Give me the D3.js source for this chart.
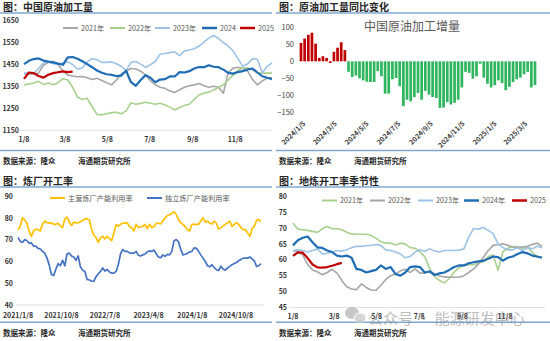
<!DOCTYPE html>
<html><head><meta charset="utf-8">
<script src="https://cdn.jsdelivr.net/npm/d3@7/dist/d3.min.js"></script>
<style>html,body{margin:0;padding:0;background:#fff;}svg{display:block;}</style>
</head><body>
<svg id="chart" width="550" height="341"></svg>
<script>
// ---------------- DATA ----------------
// Panel 1: China crude runs (weekly, seasonal), 10k t
const seasonTicks = ["1/8","3/8","5/8","7/8","9/8","11/8"];
const runYears = ["2021年","2022年","2023年","2024","2025"];
const runs2021 = [1405,1405,1404,1410,1445,1458,1462,1448,1420,1400,1396,1393,1394,1388,1380,1386,1376,1366,1356,1378,1405,1418,1430,1428,1418,1400,1375,1356,1345,1340,1328,1322,1334,1345,1352,1356,1362,1352,1345,1350,1345,1318,1412,1432,1436,1430,1418,1380,1356,1374,1386,1388];
const runs2022 = [1356,1360,1364,1372,1358,1364,1357,1366,1384,1378,1345,1300,1290,1295,1258,1222,1220,1225,1230,1232,1225,1238,1275,1268,1272,1277,1273,1268,1273,1265,1255,1242,1253,1263,1268,1290,1310,1318,1323,1333,1344,1356,1378,1400,1422,1432,1432,1424,1410,1409,1409,1409];
const runs2023 = [1410,1410,1408,1430,1455,1460,1452,1450,1455,1460,1448,1428,1432,1460,1475,1470,1458,1458,1460,1452,1440,1422,1458,1462,1450,1435,1447,1462,1495,1498,1502,1506,1488,1510,1514,1520,1532,1550,1568,1580,1566,1548,1532,1510,1475,1440,1452,1475,1472,1410,1440,1455];
const runs2024 = [1450,1465,1473,1476,1466,1461,1458,1452,1447,1481,1482,1474,1463,1450,1436,1421,1411,1404,1401,1396,1398,1420,1368,1352,1378,1400,1388,1368,1380,1382,1394,1394,1414,1412,1418,1430,1437,1436,1445,1438,1436,1425,1410,1407,1414,1418,1426,1430,1412,1395,1388,1382];
const runs2025 = [1383,1412,1409,1396,1389,1402,1409,1413,1417,1414,1416];
const runTicks = [1150,1250,1350,1450,1550,1650];

// Panel 2: YoY change of crude runs (weekly from 2024/1/5)
const yoyTicks = ["2024/1/5","2024/3/5","2024/5/5","2024/7/5","2024/9/5","2024/11/5","2025/1/5","2025/3/5"];
const yoyStart = "2024/1/5";
const yoyRed = [54,67,78,84,52,10,15,10,-5,28,40,56,33];
const yoyGreen = [-31,-46,-42,-50,-56,-60,-61,-61,-29,-44,-95,-95,-53,-49,-73,-132,-113,-118,-105,-93,-113,-87,-98,-105,-108,-137,-136,-120,-127,-122,-113,-77,-31,-34,-51,-44,-7,-48,-66,-77,-70,-56,-64,-85,-75,-61,-53,-48,-38,-31,-77,-70];
const yoyYTicks = [-150,-100,-50,0,50,100];

// Panel 3: refinery utilisation (biweekly from 2021/1/8), %
const utilStart = "2021/1/8";
const utilTicks = ["2021/1/8","2021/10/8","2022/7/8","2023/4/8","2024/1/8","2024/10/8"];
const utilNames = ["主营炼厂产能利用率","独立炼厂产能利用率"];
const utilMain = [74.5,76,80,79,77.5,74,71.5,74,74.8,74.5,74,77,78.5,77.8,77.7,77.6,77,77,77.5,76.3,75.5,79.5,80.3,78,76.5,78,77.7,77.8,78.2,78.8,79.4,79.6,79,75,72,71,68.7,70.8,71.5,70.3,71.5,70.5,69.5,73,76.8,76.2,77,77.5,77.7,77.7,76,75.4,74,77,75.5,76,76,77,75,77,75.5,76,77.5,77.5,77.2,78.5,80,81,81.4,82,82.8,81.5,79.2,77.7,77,76,74.5,74,77,77,77,77,78.5,80,78,78.5,77.5,77.2,78.5,77.5,74.8,75.5,76.3,77,77.7,78.5,76,77,77.7,77,75.5,74.6,74.6,73,71.5,75,76,78.8,79.2,78.2];
const utilIndep = [71,69.2,68.7,70,69.5,68.3,68.5,67,67,66,65.7,64.6,63.8,61.5,58.4,54,53.5,56.5,59,58,60.5,58,63.5,63.8,62.5,62,60.5,62.5,57.5,56,55.4,51.7,51.5,51,50.8,53,54.2,55.5,57,55.6,56.3,55.2,54.6,54.6,55.4,58.5,63.5,65.4,64.6,64.6,63.9,63.8,63.8,64.6,62.8,62.5,63,63.4,64.4,64.8,64.6,65.2,63.5,62,61.7,63,62.3,63.2,63,64.6,69.5,70,69,65.5,63,63.3,63.7,64.3,64.6,66.2,66,64.6,63,61.5,60,58,57.5,58.5,57.2,56.2,55.8,57.8,56.5,56,57,57.7,58.5,59,59.5,60.4,60.8,61.5,61.5,61.5,62,61.2,60.2,57.7,58,59];
const utilYTicks = [40,50,60,70,80,90];

// Panel 4: independent refinery utilisation seasonality (weekly), %
const teaYears = ["2021年","2022年","2023年","2024年","2025"];
const tea2021 = [71.5,69.6,69.4,69.2,68.9,68.6,69.7,70.4,69.7,69.7,69.4,68.6,68.1,68,68,68,67.6,66.7,65.7,65.2,65.2,64.6,65.2,64.9,63.8,63.6,62.5,60.9,57.2,54.6,53.5,52.7,54.1,56.1,57.5,58.2,58.4,58.4,59,59.4,61,61.5,56.7,62.5,63.6,64.1,64.1,63.6,64.1,62.3,60.9,60.9];
const tea2022 = [62.8,62.5,61.5,58.5,56.8,56.2,55.3,56,57,55.8,53.5,51.5,50.8,50.6,52.4,51.3,50.5,50.4,52,53.8,55,55.5,56.5,57,56,57.1,55.8,55.8,56.5,55.5,54.9,54.6,54.5,54.5,54.5,55,56,57.1,58.7,60.8,62.9,64.5,64.7,65,64.5,64,63.8,64,64.2,64.8,65.2,64.2];
const tea2023 = [62.9,63.1,62.9,62.4,62.9,63.4,61.8,62,62.4,62.9,62.7,63.1,63.8,64.2,64.2,64.4,64.5,64.8,64.5,63.1,62.9,62.4,61.8,60.6,61,62.4,63.1,62.6,63.4,62.7,62.4,62.9,62.9,62.9,63,63.4,67.1,69.8,69.6,70.1,69.2,68.2,65,63.8,63.1,63.1,63.8,62.9,63.8,63.4,64.2,63.8];
const tea2024 = [64.5,66.1,66.9,67.3,65.5,63.9,63.7,62.9,62.4,61.3,61,61.3,60.6,57.1,56.8,56,56.4,56.8,58.2,57.1,57.7,55.5,55,56,57.7,57.9,57.7,56,56.3,55.2,55.7,56,56.8,57.7,58.2,58.2,58.9,59.2,59.5,59.7,60.3,61,60.8,59.7,60.6,61,61.8,62.4,62,61.3,61,60.6];
const tea2025 = [61.2,62.3,62.2,60.5,58.5,57.6,57.5,57.7,58.1,58.6,59.0];
const teaYTicks = [45,50,55,60,65,70,75,80];

const titles = ["图：中国原油加工量","图：原油加工量同比变化","图：炼厂开工率","图：地炼开工率季节性"];
const chartInnerTitle = "中国原油加工增量";
const sourceLeft = "数据来源：隆众";
const sourceRight = "海通期货研究所";
const watermark = "公众号 · 能源研发中心";

// ---------------- HELPERS ----------------
const FONT = "'Noto Sans CJK SC','Noto Sans',sans-serif";
const svg = d3.select("#chart");
const parseD = s => { const p = s.split("/").map(Number); return p.length === 3 ? new Date(p[0], p[1]-1, p[2]) : new Date(2021, p[0]-1, p[1]); };
const seasonDate = i => d3.timeDay.offset(new Date(2021,0,8), 7*i);

const C = {gray:"#a6a6a6", green:"#a9d18e", lblue:"#9dc3e6", dblue:"#1f6db5", red:"#c00000", yellow:"#ffc000", blue:"#4472c4", bar:"#2fb55e", sep:"#7fa7d2"};

function frame(x0, x1, titleY, lineY, srcLineY, srcY, title) {
  svg.append("text").attr("x", x0+3).attr("y", titleY).text(title)
    .attr("font-family", FONT).attr("font-size", 10).attr("font-weight", "bold").attr("fill", "#262626");
  svg.append("line").attr("x1", x0).attr("x2", x1).attr("y1", lineY).attr("y2", lineY)
    .attr("stroke", C.sep).attr("stroke-width", 1.5);
  svg.append("line").attr("x1", x0).attr("x2", x1).attr("y1", srcLineY).attr("y2", srcLineY)
    .attr("stroke", C.sep).attr("stroke-width", 1.5);
  svg.append("text").attr("x", x0+3).attr("y", srcY).text(sourceLeft)
    .attr("font-family", FONT).attr("font-size", 7.5).attr("font-weight", "bold").attr("fill", "#262626");
  svg.append("text").attr("x", x0+78).attr("y", srcY).text(sourceRight)
    .attr("font-family", FONT).attr("font-size", 7.5).attr("font-weight", "bold").attr("fill", "#262626");
}

function yAxis(scale, x, ticks, bold, size, color) {
  const g = svg.append("g").attr("transform", `translate(${x},0)`)
    .call(d3.axisLeft(scale).tickValues(ticks).tickSize(0).tickPadding(0).tickFormat(d3.format("d")));
  g.select(".domain").remove();
  g.selectAll("text").attr("font-family", FONT).attr("font-size", size)
    .attr("font-weight", bold ? "bold" : "normal").attr("fill", color);
}

function xLabels(scale, ticks, y) {
  svg.append("g").selectAll("text").data(ticks).join("text")
    .attr("x", d => scale(parseD(d))).attr("y", y).attr("text-anchor", "middle")
    .text(d => d).attr("font-family", FONT).attr("font-size", 7).attr("font-weight", "bold").attr("fill", "#333");
}

function legend(items, y) {
  items.forEach(it => {
    svg.append("line").attr("x1", it.x).attr("x2", it.x+15).attr("y1", y).attr("y2", y)
      .attr("stroke", it.color).attr("stroke-width", it.w || 2);
    svg.append("text").attr("x", it.x+18).attr("y", y+2.6).text(it.name)
      .attr("font-family", FONT).attr("font-size", 7.2).attr("fill", "#595959");
  });
}

function seasonLine(sx, sy, data, color, w) {
  svg.append("path").datum(data)
    .attr("d", d3.line().x((v,i) => sx(seasonDate(i))).y(v => sy(v)))
    .attr("fill", "none").attr("stroke", color).attr("stroke-width", w).attr("stroke-linejoin", "round");
}

// ---------------- PANEL 1 ----------------
frame(0, 272, 10.5, 13, 150.5, 164, titles[0]);
const sx1 = d3.scaleTime().domain([seasonDate(0), seasonDate(51)]).range([24, 272]);
const sy1 = d3.scaleLinear().domain([1150, 1650]).range([130.3, 20]);
svg.append("line").attr("x1", 20).attr("x2", 272).attr("y1", sy1(1150)).attr("y2", sy1(1150)).attr("stroke", "#d9d9d9").attr("stroke-width", 0.8);
yAxis(sy1, 19, runTicks, true, 7, "#333");
xLabels(sx1, seasonTicks, 141.5);
seasonLine(sx1, sy1, runs2021, C.gray, 1.6);
seasonLine(sx1, sy1, runs2022, C.green, 1.6);
seasonLine(sx1, sy1, runs2023, C.lblue, 1.6);
seasonLine(sx1, sy1, runs2024, C.dblue, 2.2);
seasonLine(sx1, sy1, runs2025, C.red, 2.2);
legend([
  {x:63, name:runYears[0], color:C.gray},
  {x:110, name:runYears[1], color:C.green},
  {x:155, name:runYears[2], color:C.lblue},
  {x:202, name:runYears[3], color:C.dblue, w:2.5},
  {x:240, name:runYears[4], color:C.red, w:2.5}
], 28);

// ---------------- PANEL 2 ----------------
frame(276, 550, 10.5, 13, 150.5, 164, titles[1]);
const start2 = parseD(yoyStart);
const yoyAll = yoyRed.map(v => ({v, c:C.red})).concat(yoyGreen.map(v => ({v, c:C.bar})));
const sx2 = d3.scaleTime().domain([start2, d3.timeWeek.offset(start2, yoyAll.length-1)]).range([301, 535]);
const sy2 = d3.scaleLinear().domain([-150, 100]).range([112.3, 27.3]);
yAxis(sy2, 294, yoyYTicks, false, 7.5, "#404040");
svg.append("g").selectAll("rect").data(yoyAll).join("rect")
  .attr("x", (d,i) => sx2(d3.timeWeek.offset(start2, i)) - 1.35)
  .attr("width", 2.7)
  .attr("y", d => Math.min(sy2(d.v), sy2(0)))
  .attr("height", d => Math.abs(sy2(d.v) - sy2(0)))
  .attr("fill", d => d.c);
svg.append("text").attr("x", 412).attr("y", 31).attr("text-anchor", "middle").text(chartInnerTitle)
  .attr("font-family", FONT).attr("font-size", 12).attr("fill", "#595959");
svg.append("g").selectAll("text").data(yoyTicks).join("text")
  .attr("text-anchor", "end")
  .attr("transform", d => `translate(${sx2(parseD(d))+2},121) rotate(-45)`)
  .attr("dy", "0.6em")
  .text(d => d).attr("font-family", FONT).attr("font-size", 7).attr("font-weight", "bold").attr("fill", "#404040");

// ---------------- PANEL 3 ----------------
frame(0, 272, 184.5, 187, 322.3, 336, titles[2]);
const start3 = parseD(utilStart);
const date3 = i => d3.timeDay.offset(start3, 14*i);
const sx3 = d3.scaleTime().domain([start3, date3(utilMain.length-1)]).range([18, 261]);
const sy3 = d3.scaleLinear().domain([40, 90]).range([305, 196]);
svg.append("line").attr("x1", 16).attr("x2", 264).attr("y1", sy3(40)).attr("y2", sy3(40)).attr("stroke", "#d9d9d9").attr("stroke-width", 0.8);
yAxis(sy3, 13, utilYTicks, true, 7, "#333");
xLabels(sx3, utilTicks, 318);
[[utilMain, C.yellow], [utilIndep, C.blue]].forEach(([data, color]) => {
  svg.append("path").datum(data)
    .attr("d", d3.line().x((v,i) => sx3(date3(i))).y(v => sy3(v)))
    .attr("fill", "none").attr("stroke", color).attr("stroke-width", 1.7).attr("stroke-linejoin", "round");
});
legend([
  {x:50, name:utilNames[0], color:C.yellow},
  {x:147, name:utilNames[1], color:C.blue}
], 198);

// ---------------- PANEL 4 ----------------
frame(276, 550, 184.5, 187, 322.3, 336, titles[3]);
const sx4 = d3.scaleTime().domain([seasonDate(0), seasonDate(51)]).range([293, 542]);
const sy4 = d3.scaleLinear().domain([45, 80]).range([307.5, 196]);
svg.append("line").attr("x1", 289).attr("x2", 545).attr("y1", sy4(45)).attr("y2", sy4(45)).attr("stroke", "#d9d9d9").attr("stroke-width", 0.8);
yAxis(sy4, 287, teaYTicks, true, 7, "#333");
xLabels(sx4, seasonTicks, 319);
seasonLine(sx4, sy4, tea2021, C.green, 1.6);
seasonLine(sx4, sy4, tea2022, C.gray, 1.6);
seasonLine(sx4, sy4, tea2023, C.lblue, 1.6);
seasonLine(sx4, sy4, tea2024, C.dblue, 2.2);
seasonLine(sx4, sy4, tea2025, C.red, 2.2);
legend([
  {x:322, name:teaYears[0], color:C.green},
  {x:370, name:teaYears[1], color:C.gray},
  {x:418, name:teaYears[2], color:C.lblue},
  {x:464, name:teaYears[3], color:C.dblue, w:2.5},
  {x:512, name:teaYears[4], color:C.red, w:2.5}
], 200.5);

// watermark (overlays the axis labels, as in the reference)
const wm = svg.append("g").attr("opacity", 0.55);
wm.append("ellipse").attr("cx", 352).attr("cy", 313).attr("rx", 7).attr("ry", 6).attr("fill", "#9a9a9a");
wm.append("ellipse").attr("cx", 360).attr("cy", 318).attr("rx", 6).attr("ry", 5).attr("fill", "#b5b5b5").attr("stroke", "#fff").attr("stroke-width", 1);
wm.append("text").attr("x", 368).attr("y", 324).text(watermark)
  .attr("font-family", FONT).attr("font-size", 15).attr("fill", "#8c8c8c");
</script>
</body></html>
